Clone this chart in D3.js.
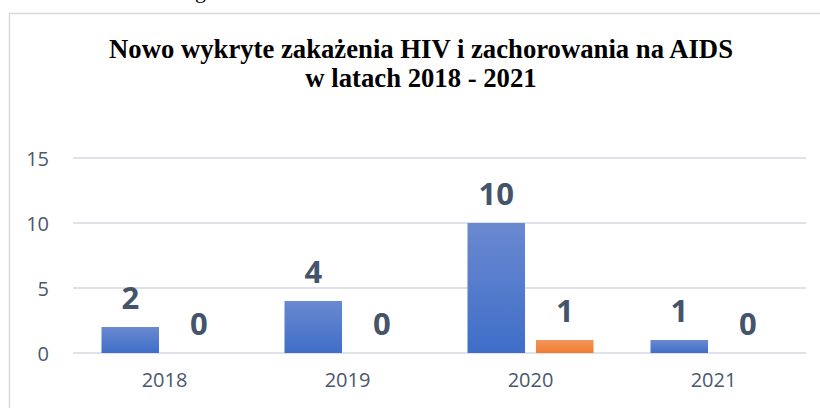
<!DOCTYPE html>
<html>
<head>
<meta charset="utf-8">
<script src="https://cdn.jsdelivr.net/npm/d3@7"></script>
<style>
  html, body { margin: 0; padding: 0; background: #fff; }
  svg { display: block; }
</style>
</head>
<body>
<svg id="chart" width="820" height="408"></svg>
<script>
const titleLines = ["Nowo wykryte zakażenia HIV i zachorowania na AIDS", "w latach 2018 - 2021"];
const years = ["2018", "2019", "2020", "2021"];
const series = ["HIV", "AIDS"];
const hivValues = [2, 4, 10, 1];
const aidsValues = [0, 0, 1, 0];
const yTicks = [0, 5, 10, 15];

const svg = d3.select("#chart");
const W = 820, H = 408;
const margin = { left: 73, right: 15, top: 158, bottom: 55 };

const defs = svg.append("defs");
const gb = defs.append("linearGradient").attr("id", "gBlue").attr("x1", 0).attr("y1", 0).attr("x2", 0).attr("y2", 1);
gb.append("stop").attr("offset", "0%").attr("stop-color", "#6a89d0");
gb.append("stop").attr("offset", "100%").attr("stop-color", "#3f6ec8");
const go = defs.append("linearGradient").attr("id", "gOrange").attr("x1", 0).attr("y1", 0).attr("x2", 0).attr("y2", 1);
go.append("stop").attr("offset", "0%").attr("stop-color", "#f39659");
go.append("stop").attr("offset", "100%").attr("stop-color", "#f07b33");
const fills = { HIV: "url(#gBlue)", AIDS: "url(#gOrange)" };

// fragment of preceding text (only its descender is visible)
svg.append("text").attr("x", 195).attr("y", -2)
  .attr("font-family", "'Liberation Serif', 'Times New Roman', serif")
  .attr("font-size", 22).attr("fill", "#000").text("g");

// chart frame
svg.append("rect").attr("x", 9.5).attr("y", 13.5).attr("width", W).attr("height", H)
  .attr("fill", "none").attr("stroke", "#d9d9d9").attr("stroke-width", 1.5);

// title
const title = svg.append("text")
  .attr("text-anchor", "middle")
  .attr("font-family", "'Liberation Serif', 'Times New Roman', serif")
  .attr("font-weight", "bold").attr("font-size", 26.7).attr("fill", "#000");
titleLines.forEach((t, i) => {
  title.append("tspan").attr("x", 421).attr("y", 58 + i * 29).text(t);
});

const x = d3.scaleBand().domain(years).range([margin.left, W - margin.right]).padding(0);
const x1 = d3.scaleBand().domain(series).range([0, x.bandwidth()]).paddingInner(0.16).paddingOuter(0.416);
const y = d3.scaleLinear().domain([0, 15]).range([353, 158]);

// gridlines
svg.append("g").selectAll("line").data(yTicks).join("line")
  .attr("x1", margin.left).attr("x2", W - margin.right + 1)
  .attr("y1", d => y(d)).attr("y2", d => y(d))
  .attr("stroke", "#dfe3e8").attr("stroke-width", 2);

// y tick labels
svg.append("g").selectAll("text").data(yTicks).join("text")
  .attr("x", 49).attr("y", d => y(d) + 7.5)
  .attr("text-anchor", "end")
  .attr("font-family", "'Open Sans', sans-serif").attr("font-size", 20)
  .attr("fill", "#4a586d").text(d => d);

// x labels
const xAxis = d3.axisBottom(x).tickSize(0).tickPadding(0);
const xg = svg.append("g").attr("transform", "translate(0,373)").call(xAxis);
xg.select(".domain").remove();
xg.selectAll("text").attr("font-family", "'Open Sans', sans-serif").attr("font-size", 20)
  .attr("fill", "#4a586d").attr("dy", "0.7em");

const rows = years.map((yr, i) => ({ year: yr, vals: [
  { s: "HIV", v: hivValues[i] }, { s: "AIDS", v: aidsValues[i] }
] }));

const groups = svg.append("g").selectAll("g").data(rows).join("g")
  .attr("transform", d => `translate(${x(d.year)},0)`);

groups.selectAll("rect").data(d => d.vals.filter(o => o.v > 0)).join("rect")
  .attr("x", d => x1(d.s)).attr("width", x1.bandwidth())
  .attr("y", d => y(d.v)).attr("height", d => y(0) - y(d.v))
  .attr("fill", d => fills[d.s]);

groups.selectAll("text").data(d => d.vals).join("text")
  .attr("x", d => x1(d.s) + x1.bandwidth() / 2)
  .attr("y", d => y(d.v) - 18)
  .attr("text-anchor", "middle")
  .attr("font-family", "'Open Sans', sans-serif").attr("font-weight", "bold").attr("font-size", 31)
  .attr("fill", "#44546a").text(d => d.v);
</script>
</body>
</html>
